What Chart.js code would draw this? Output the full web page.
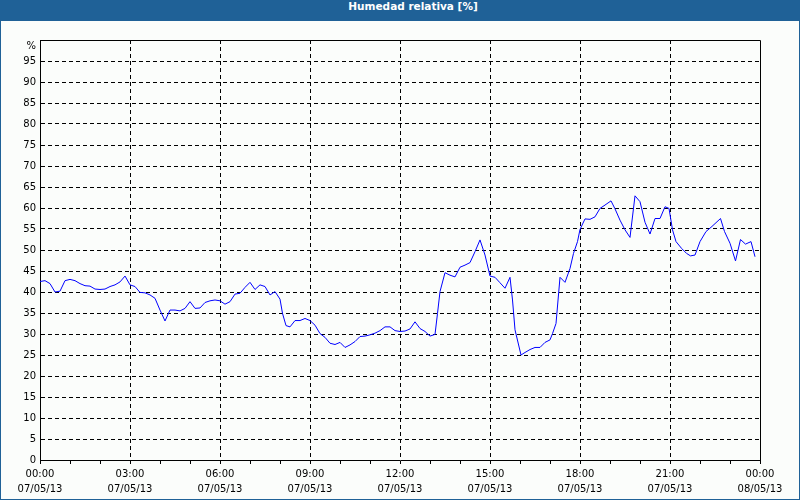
<!DOCTYPE html>
<html>
<head>
<meta charset="utf-8">
<script src="https://cdn.jsdelivr.net/npm/chart.js@4.4.1/dist/chart.umd.min.js"></script>
<style>
  html, body { margin: 0; padding: 0; background: #fbfdfb; }
  #wrap { position: relative; width: 800px; height: 500px; overflow: hidden; background: #fbfdfb; }
  #titlebar { position: absolute; left: 0; top: 0; width: 800px; height: 21px; background: #1f6197; }
  #titletext { position: absolute; left: 0; top: 0; width: 826px; height: 21px; line-height: 21px; text-align: center;
    color: #ffffff; font: bold 10.5px "DejaVu Sans", sans-serif; }
  #frame { position: absolute; left: 0; top: 0; width: 800px; height: 500px; box-sizing: border-box;
    border: 1px solid #1f6197; pointer-events: none; }
  canvas { position: absolute; left: 0; top: 0; }
</style>
</head>
<body>
<div id="wrap">
  <canvas id="c" width="800" height="500"></canvas>
  <div id="titlebar"></div>
  <div id="titletext">Humedad relativa [%]</div>
  <div id="frame"></div>
</div>
<script>
// time of each reading, minutes after 07/05/13 00:00
const times = [0,10,20,30,40,50,60,70,80,90,100,110,120,130,140,150,160,170,180,190,200,210,220,230,240,250,260,270,280,290,300,310,320,330,340,350,360,370,380,390,400,410,420,430,440,450,460,470,480,485,492,500,510,520,530,540,550,560,570,580,590,600,610,620,630,640,650,660,670,680,690,700,710,720,730,740,750,760,770,780,790,795,800,810,820,830,840,850,860,870,880,890,900,910,920,930,940,945,950,962,970,980,990,1000,1010,1020,1025,1032,1040,1050,1060,1067,1075,1080,1090,1100,1110,1120,1130,1142,1150,1160,1170,1180,1190,1200,1210,1220,1230,1240,1250,1258,1265,1272,1283,1293,1301,1310,1320,1332,1342,1352,1361,1369,1380,1391,1401,1411,1422,1430];
// relative humidity, %
const humidity = [42.5,42.7,42.0,40.0,40.2,42.7,43.0,42.7,42.0,41.5,41.4,40.7,40.6,40.7,41.3,41.7,42.4,43.8,41.7,41.3,39.9,39.8,39.3,38.5,35.7,33.1,35.7,35.7,35.5,36.1,37.7,36.1,36.2,37.5,37.9,38.1,37.9,37.1,37.7,39.5,39.7,41.1,42.3,40.6,41.7,41.3,39.3,40.1,38.3,34.9,32.0,31.7,33.2,33.2,33.7,33.2,32.1,30.1,29.2,27.8,27.5,28.0,26.8,27.4,28.2,29.4,29.5,29.8,30.2,30.8,31.7,31.7,30.8,30.6,30.7,31.2,32.9,31.3,30.6,29.5,29.9,34.9,40.1,44.6,44.0,43.6,45.9,46.4,47.0,49.6,52.4,48.8,43.8,43.5,42.2,40.9,43.5,38.1,31.0,25.0,25.6,26.3,26.8,26.8,28.0,28.6,30.1,32.5,43.5,42.3,45.6,49.2,52.0,54.9,57.4,57.3,57.9,59.9,60.7,61.7,59.8,57.1,54.8,53.0,62.9,61.5,56.6,53.8,57.5,57.5,60.3,59.9,54.8,52.0,50.4,49.2,48.6,48.8,52.0,54.4,55.4,56.5,57.5,54.4,51.6,47.4,52.5,51.4,52.0,48.4];
// x tick labels every 3 hours: [time, date]
const xTickTimes = ["00:00","03:00","06:00","09:00","12:00","15:00","18:00","21:00","00:00"];
const xTickDates = ["07/05/13","07/05/13","07/05/13","07/05/13","07/05/13","07/05/13","07/05/13","07/05/13","08/05/13"];
const yUnit = "%";

const points = times.map((t, i) => ({ x: t, y: humidity[i] }));
const FONT = { family: "'DejaVu Sans', sans-serif", size: 10 };

const framePlugin = {
  id: 'frame',
  beforeDatasetsDraw(chart) {
    const a = chart.chartArea, ctx = chart.ctx;
    ctx.save();
    ctx.strokeStyle = '#000';
    ctx.lineWidth = 1;
    ctx.beginPath();
    ctx.moveTo(Math.round(a.left), Math.round(a.top) + 0.5);
    ctx.lineTo(Math.round(a.right) + 0.5, Math.round(a.top) + 0.5);
    ctx.lineTo(Math.round(a.right) + 0.5, Math.round(a.bottom));
    ctx.stroke();
    // unit label at the top of the value axis
    ctx.fillStyle = '#000';
    ctx.font = "10px 'DejaVu Sans', sans-serif";
    ctx.textAlign = 'right';
    ctx.textBaseline = 'middle';
    ctx.fillText(yUnit, a.left - 4, a.top + 6);
    ctx.restore();
  }
};

new Chart(document.getElementById('c'), {
  type: 'line',
  data: {
    datasets: [{
      data: points,
      borderColor: '#0000ff',
      borderWidth: 1,
      pointRadius: 0,
      tension: 0,
      fill: false
    }]
  },
  options: {
    responsive: false,
    animation: false,
    events: [],
    layout: { padding: { left: 0, top: 40, right: 40, bottom: 0 } },
    plugins: { legend: { display: false }, title: { display: false }, tooltip: { enabled: false } },
    scales: {
      x: {
        type: 'linear',
        min: 0, max: 1440,
        afterFit: s => { s.height = 40; },
        border: { display: true, color: '#000', width: 1, dash: [4, 3] },
        grid: {
          color: c => (c.tick && c.tick.value % 180 === 0 && c.tick.value > 0 && c.tick.value < 1440) ? '#000' : 'rgba(0,0,0,0)',
          tickColor: '#000',
          tickLength: 4,
          lineWidth: 1
        },
        ticks: {
          stepSize: 60,
          autoSkip: false,
          maxRotation: 0,
          padding: 3,
          color: '#000',
          font: { ...FONT, lineHeight: 1.5 },
          callback: v => (v % 180 === 0) ? [xTickTimes[v / 180], xTickDates[v / 180]] : ''
        }
      },
      y: {
        min: 0, max: 100,
        afterFit: s => { s.width = 40; },
        border: { display: true, color: '#000', width: 1, dash: [4, 3] },
        grid: {
          color: c => (c.tick && c.tick.value > 0 && c.tick.value < 100) ? '#000' : 'rgba(0,0,0,0)',
          drawTicks: false,
          lineWidth: 1
        },
        ticks: {
          stepSize: 5,
          padding: 4,
          color: '#000',
          font: FONT,
          callback: v => v === 100 ? '' : String(v)
        }
      }
    }
  },
  plugins: [framePlugin]
});
</script>
</body>
</html>
